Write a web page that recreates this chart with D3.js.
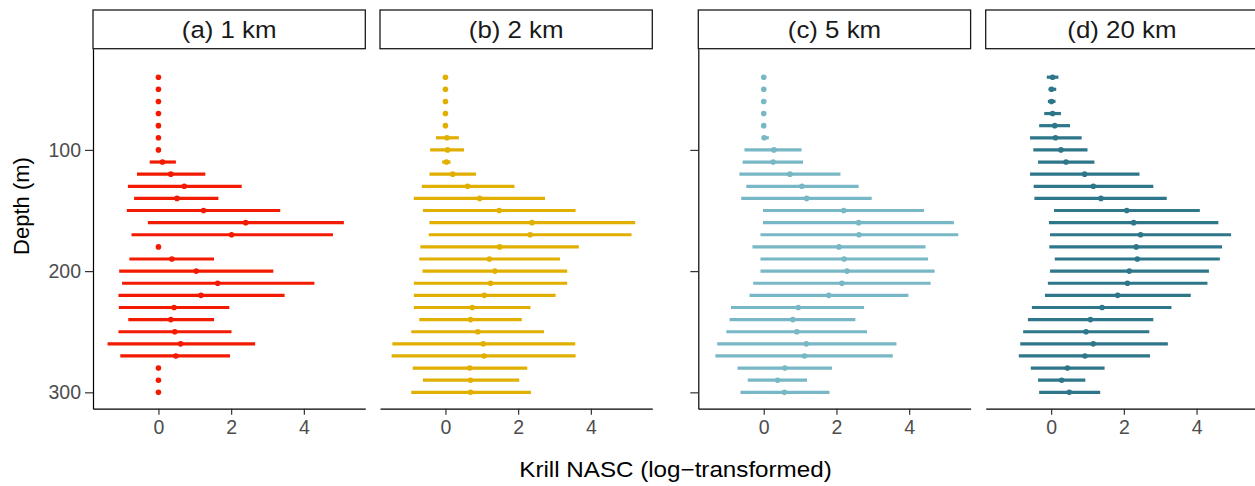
<!DOCTYPE html>
<html>
<head>
<meta charset="utf-8">
<script src="https://cdn.jsdelivr.net/npm/d3@7"></script>
<style>
  body { margin: 0; background: #fff; }
  text { font-family: "Liberation Sans", Arial, sans-serif; }
</style>
</head>
<body>
<div id="chart"></div>
<script>
var w = 1255, h = 486;

// depth bins (m)
var depths = d3.range(40, 301, 10);

// panel titles and colours
var panels = ["(a) 1 km", "(b) 2 km", "(c) 5 km", "(d) 20 km"];
var colours = ["#F21A00", "#E1AF00", "#78B7C5", "#2E7689"];

// estimates per depth bin: mid, lower, upper
var mid1 = [0,0,0,0,0,0,0,0.11,0.34,0.71,0.51,1.24,2.40,2.01,0,0.37,1.04,1.63,1.17,0.43,0.34,0.45,0.61,0.48,0,0,0];
var lo1  = [0,0,0,0,0,0,0,-0.24,-0.59,-0.84,-0.67,-0.87,-0.29,-0.74,0,-0.80,-1.08,-1.00,-1.10,-1.09,-0.83,-1.10,-1.40,-1.05,0,0,0];
var hi1  = [0,0,0,0,0,0,0,0.48,1.29,2.29,1.65,3.35,5.10,4.80,0,1.53,3.16,4.29,3.47,1.95,1.53,2.01,2.66,1.97,0,0,0];

var mid2 = [0,0,0,0,0,0.04,0.06,0.03,0.20,0.61,0.94,1.48,2.38,2.33,1.49,1.21,1.36,1.24,1.07,0.74,0.69,0.89,1.04,1.06,0.67,0.69,0.69];
var lo2  = [0,0,0,0,0,-0.26,-0.42,-0.09,-0.44,-0.65,-0.87,-0.62,-0.44,-0.46,-0.69,-0.72,-0.63,-0.87,-0.87,-0.87,-0.72,-0.94,-1.46,-1.48,-0.90,-0.62,-0.94];
var hi2  = [0,0,0,0,0,0.37,0.51,0.14,0.84,1.90,2.74,3.58,5.22,5.12,3.67,3.15,3.35,3.35,3.03,2.34,2.10,2.71,3.57,3.58,2.25,2.03,2.35];

var mid3 = [0,0,0,0,0,0.01,0.28,0.26,0.72,1.05,1.18,2.20,2.61,2.62,2.07,2.21,2.29,2.15,1.79,0.95,0.80,0.91,1.17,1.12,0.58,0.38,0.57];
var lo3  = [0,0,0,0,0,-0.02,-0.53,-0.58,-0.67,-0.48,-0.62,-0.02,-0.02,-0.09,-0.31,-0.09,-0.09,-0.29,-0.39,-0.90,-0.94,-1.03,-1.28,-1.33,-0.72,-0.44,-0.64];
var hi3  = [0,0,0,0,0,0.14,1.04,1.08,2.11,2.61,2.97,4.41,5.23,5.35,4.45,4.52,4.70,4.59,3.98,2.76,2.52,2.84,3.65,3.55,1.88,1.19,1.81];

var mid4 = [0.04,0.01,0.01,0.04,0.10,0.12,0.27,0.41,0.92,1.16,1.37,2.08,2.27,2.46,2.34,2.37,2.15,2.10,1.83,1.40,1.08,0.96,1.16,0.93,0.45,0.29,0.50];
var lo4  = [-0.12,-0.07,-0.09,-0.19,-0.33,-0.58,-0.49,-0.36,-0.58,-0.48,-0.46,0.08,-0.06,-0.03,-0.05,0.10,-0.03,-0.09,-0.17,-0.53,-0.64,-0.77,-0.85,-0.89,-0.56,-0.36,-0.33];
var hi4  = [0.20,0.14,0.12,0.27,0.52,0.84,1.00,1.19,2.43,2.81,3.18,4.09,4.60,4.95,4.70,4.64,4.34,4.30,3.84,3.31,2.81,2.70,3.21,2.72,1.47,0.94,1.35];

var mids = [mid1, mid2, mid3, mid4];
var los = [lo1, lo2, lo3, lo4];
var his = [hi1, hi2, hi3, hi4];

var xTicks = [0, 2, 4];
var yTicks = [100, 200, 300];

// layout
var panelLeft = [93, 380, 698.3, 985.7];
var panelW = 272.3;
var stripTop = 10, stripBottom = 48.7, panelBottom = 408.7;

var svg = d3.select('#chart').append('svg')
  .attr('width', w)
  .attr('height', h);

var y = d3.scaleLinear()
  .domain([16.5, 313.5])
  .range([stripBottom, panelBottom]);

panels.forEach(function(title, p) {
  var left = panelLeft[p];
  var x = d3.scaleLinear()
    .domain([-1.8, 5.69])
    .range([left, left + panelW]);

  var g = svg.append('g');

  // strip
  g.append('rect')
    .attr('x', left)
    .attr('y', stripTop)
    .attr('width', panelW)
    .attr('height', stripBottom - stripTop)
    .style('fill', '#fff')
    .style('stroke', '#1a1a1a')
    .style('stroke-width', 1.3);
  g.append('text')
    .attr('transform', 'translate(' + (left + panelW / 2) + ',' + ((stripTop + stripBottom) / 2 + 8.5) + ') scale(1.1,1)')
    .attr('text-anchor', 'middle')
    .style('font-size', '23.5px')
    .style('fill', '#1a1a1a')
    .text(title);

  // intervals
  var rows = depths.map(function(d, i) {
    return { depth: d, mid: mids[p][i], lo: los[p][i], hi: his[p][i] };
  });

  g.selectAll('line.ci')
    .data(rows.filter(function(r) { return r.hi > r.lo; }))
    .enter().append('line')
    .attr('class', 'ci')
    .attr('x1', function(r) { return x(r.lo); })
    .attr('x2', function(r) { return x(r.hi); })
    .attr('y1', function(r) { return y(r.depth); })
    .attr('y2', function(r) { return y(r.depth); })
    .style('stroke', colours[p])
    .style('stroke-width', 3.2);

  g.selectAll('circle.pt')
    .data(rows)
    .enter().append('circle')
    .attr('class', 'pt')
    .attr('cx', function(r) { return x(r.mid); })
    .attr('cy', function(r) { return y(r.depth); })
    .attr('r', 2.8)
    .style('fill', colours[p]);

  // x axis
  var xa = g.append('g')
    .attr('transform', 'translate(0,' + panelBottom + ')')
    .call(d3.axisBottom(x).tickValues(xTicks).tickSizeOuter(0).tickSizeInner(6).tickPadding(5));
  xa.select('.domain').style('stroke', '#000').style('stroke-width', 1.2);
  xa.selectAll('.tick line').style('stroke', '#333').style('stroke-width', 1.2);
  xa.selectAll('.tick text')
    .style('font-size', '19.5px')
    .style('fill', '#4d4d4d')
    .attr('font-family', null);

  // y axis on first panel of each pair
  if (p == 0 || p == 2) {
    var ya = g.append('g')
      .attr('transform', 'translate(' + left + ',0)')
      .call(d3.axisLeft(y).tickValues(yTicks).tickSizeOuter(0).tickSizeInner(8).tickPadding(4));
    ya.select('.domain').style('stroke', '#000').style('stroke-width', 1.2);
    ya.selectAll('.tick line').style('stroke', '#333').style('stroke-width', 1.2);
    ya.selectAll('.tick text')
      .style('font-size', '19.5px')
      .style('fill', '#4d4d4d')
      .attr('font-family', null);
    if (p == 2) ya.selectAll('.tick text').remove();
  }
});

// axis titles
svg.append('text')
  .attr('transform', 'translate(675.5,477) scale(1.1,1)')
  .attr('text-anchor', 'middle')
  .style('font-size', '22px')
  .text('Krill NASC (log\u2212transformed)');

svg.append('text')
  .attr('transform', 'translate(29,206) rotate(-90)')
  .attr('text-anchor', 'middle')
  .style('font-size', '22px')
  .text('Depth (m)');
</script>
</body>
</html>
